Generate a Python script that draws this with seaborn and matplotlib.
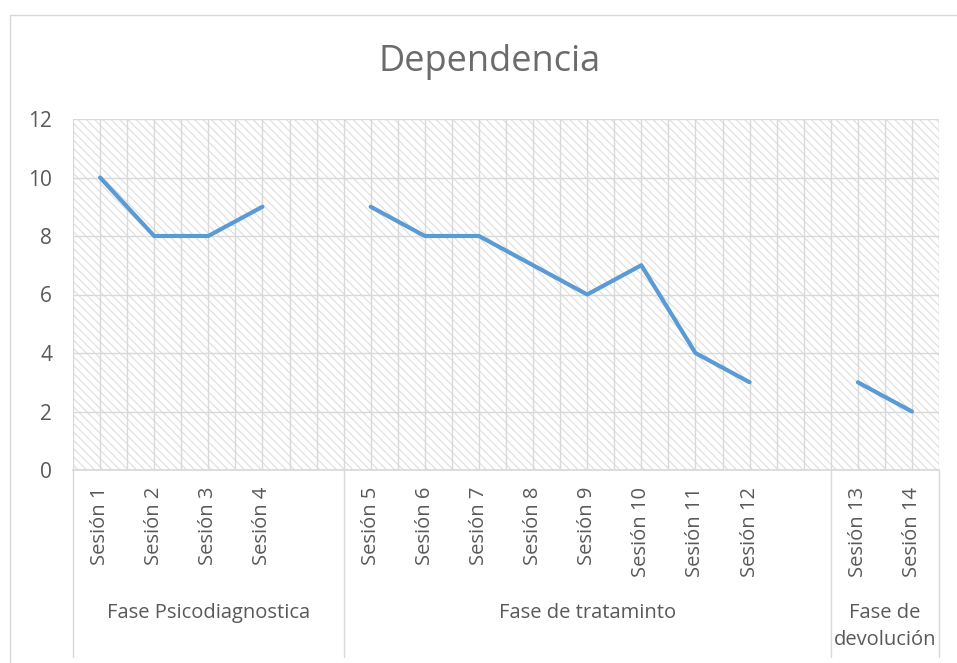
import matplotlib
matplotlib.use("Agg")
import matplotlib.pyplot as plt
import matplotlib.transforms as mtransforms
from matplotlib.patches import Rectangle
import seaborn as sns
import pandas as pd

# Datos: 16 posiciones en el eje de categorias (huecos vacios entre fases)
categorias = ["Sesión 1", "Sesión 2", "Sesión 3", "Sesión 4", "",
              "Sesión 5", "Sesión 6", "Sesión 7", "Sesión 8", "Sesión 9",
              "Sesión 10", "Sesión 11", "Sesión 12", "",
              "Sesión 13", "Sesión 14"]
valores = [10, 8, 8, 9, None,
           9, 8, 8, 7, 6, 7, 4, 3, None,
           3, 2]
fases = ["Fase Psicodiagnostica", "Fase de tratamint" + "o", "Fase de\ndevolución"]
fase_tam = [5, 9, 2]  # posiciones de categoria que ocupa cada fase

# Tabla larga para seaborn
fase_col = []
for f, n in zip(fases, fase_tam):
    fase_col += [f] * n
df = pd.DataFrame({"pos": range(len(categorias)), "sesion": categorias,
                   "valor": valores, "fase": fase_col}).dropna()

sns.set_theme(style="white")
plt.rcParams["font.family"] = ["Open Sans", "DejaVu Sans"]
plt.rcParams["hatch.color"] = "#dedede"
plt.rcParams["hatch.linewidth"] = 0.8
gris = "#595959"
linea = "#d9d9d9"

fig = plt.figure(figsize=(9.57, 6.63), dpi=100)
W, H = 957, 663
ax = fig.add_axes([73 / W, 1 - 470 / H, 866 / W, 351 / H])

# Fondo tramado del area de trazado
ax.add_patch(Rectangle((0, 0), 1, 1, transform=ax.transAxes, facecolor="white",
                       edgecolor="#dedede", hatch="\\\\\\\\", lw=0, zorder=0))

sns.lineplot(data=df, x="pos", y="valor", units="fase", estimator=None,
             color="#5B9BD5", lw=3, ax=ax, zorder=3)

n = len(categorias)
ax.set_xlim(-0.5, n - 0.5)
ax.set_ylim(0, 12)
ax.set_yticks(range(0, 13, 2))
ax.set_xticks(range(n))
ax.set_xticklabels(categorias, rotation=90)
ax.set_xticks([i + 0.5 for i in range(-1, n)], minor=True)
ax.grid(True, which="both", axis="x", color=linea, lw=1, zorder=1)
ax.grid(True, which="major", axis="y", color=linea, lw=1, zorder=1)
ax.set_axisbelow(False)
ax.tick_params(axis="both", which="both", length=0, colors=gris, labelsize=14.5)
ax.tick_params(axis="y", pad=15, labelsize=15)
ax.tick_params(axis="x", pad=12)
ax.set_xlabel("")
ax.set_ylabel("")
for s in ["left", "top", "right"]:
    ax.spines[s].set_visible(False)
ax.spines["bottom"].set_color(linea)
ax.spines["bottom"].set_zorder(2)

# Segundo nivel del eje de categorias: fases y separadores
tr = mtransforms.blended_transform_factory(ax.transData, fig.transFigure)
inicio = -0.5
bordes = [inicio]
for f, k in zip(fases, fase_tam):
    fin = inicio + k
    if "\n" in f:
        ax.text((inicio + fin) / 2, 1 - 603 / H, f, transform=tr, ha="center",
                va="top", color=gris, fontsize=14.5, linespacing=1.45)
    else:
        ax.text((inicio + fin) / 2, 1 - 613 / H, f, transform=tr, ha="center",
                va="center", color=gris, fontsize=14.5)
    bordes.append(fin)
    inicio = fin
for b in bordes:
    ax.plot([b, b], [1 - 470 / H, 1 - 657 / H], transform=tr, color=linea,
            lw=1, clip_on=False)

fig.text(490 / W, 1 - 62 / H, "Dependencia", ha="center", va="center",
         fontsize=26, color="#6b6b6b")

# Borde del grafico
fig.add_artist(plt.Line2D([10 / W, 10 / W], [0, 1 - 15 / H], color=linea, lw=1))
fig.add_artist(plt.Line2D([10 / W, 1], [1 - 15 / H, 1 - 15 / H], color=linea, lw=1))

fig.savefig("out.png", dpi=100)
